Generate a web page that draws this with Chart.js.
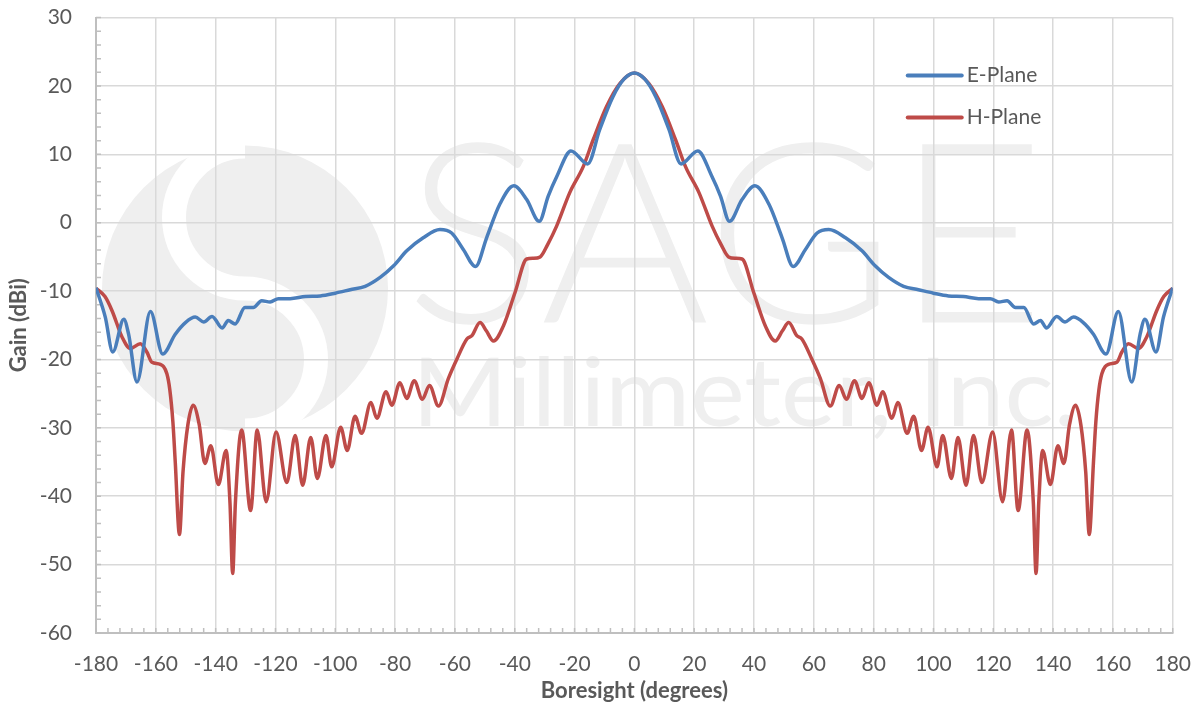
<!DOCTYPE html>
<html>
<head>
<meta charset="utf-8">
<script src="https://cdn.jsdelivr.net/npm/chart.js@4.4.1/dist/chart.umd.min.js"></script>
<style>
  html, body { margin: 0; padding: 0; background: #fff; }
  #wrap { width: 1199px; height: 706px; overflow: hidden; position: relative; }
  /* el lienzo es algo mayor para que el area del grafico quede donde en la figura */
  #gainChart { position: absolute; left: 0; top: -19px; }
</style>
</head>
<body>
<div id="wrap"><canvas id="gainChart" width="1210" height="725"></canvas></div>
<script>
// Datos (angulo en grados, ganancia en dBi)
const ePlaneAngles = [
  -180, -176.9, -174.4, -170.7, -169.1, -166.3, -161.8, -157.7, -153.5, -150.1,
  -146.8, -144, -141.2, -137.8, -135.8, -133.5, -130.2, -127.4, -124.6, -121.8,
  -119, -115.1, -110, -105, -100, -95, -90, -85, -80.5, -76.1,
  -70.6, -65, -61.1, -57.2, -53.1, -49.4, -45, -40.3, -36, -31.8,
  -28.8, -25.9, -21.2, -15.6, -11.6, -7.2, -3.5, 0,
  3.5, 7.2, 11.6, 15.6, 21.2, 25.9, 28.8, 31.8, 36, 40.3,
  45, 49.4, 53.1, 57.2, 61.1, 65, 70.6, 76.1, 80.5, 85,
  90, 95, 100, 105, 110, 115.1, 119, 121.8, 124.6, 127.4,
  130.2, 133.5, 135.8, 137.8, 141.2, 144, 146.8, 150.1, 153.5, 157.7,
  161.8, 166.3, 169.1, 170.7, 174.4, 176.9, 180
];
const ePlaneGain = [
  -9.5, -13.8, -18.9, -14.1, -16.3, -23.3, -13, -19.2, -16.3, -14.6,
  -13.8, -14.5, -13.7, -15.4, -14.3, -14.8, -12.4, -12.4, -11.4, -11.6,
  -11.1, -11.1, -10.8, -10.7, -10.3, -9.8, -9.3, -8, -6.3, -4.1,
  -2.2, -1, -1.5, -3.9, -6.4, -2.2, 2.7, 5.4, 3.4, 0.2,
  3.9, 6.8, 10.5, 8.6, 13.6, 18.4, 21, 21.9,
  21, 18.4, 13.6, 8.6, 10.5, 6.8, 3.9, 0.2, 3.4, 5.4,
  2.7, -2.2, -6.4, -3.9, -1.5, -1, -2.2, -4.1, -6.3, -8,
  -9.3, -9.8, -10.3, -10.7, -10.8, -11.1, -11.1, -11.6, -11.4, -12.4,
  -12.4, -14.8, -14.3, -15.4, -13.7, -14.5, -13.8, -14.6, -16.3, -19.2,
  -13, -23.3, -16.3, -14.1, -18.9, -13.8, -9.5
];

const hPlaneAngles = [
  -180, -177, -174.6, -171.3, -168.5, -165.2, -163, -161.3, -158.5, -156.3,
  -155.3, -154.3, -153.5, -152.1, -150.9, -149.3, -147.5, -145.5, -143.6, -141.6,
  -139.1, -136.5, -135.2, -134.3, -133.4, -131.3, -128.3, -126.1, -123.1, -119.8,
  -116.2, -113.4, -110.9, -108.2, -106, -103.1, -101.2, -98.2, -96, -93.4,
  -91.2, -88.1, -86.1, -83, -81.1, -78.4, -76.1, -73.6, -70.9, -68.5,
  -65.5, -62.2, -59.4, -56, -54.3, -51.6, -49.5, -47.1, -43.8, -39.9,
  -36, -33.8, -31.5, -29, -26, -21.6, -17.1, -13.8, -9.3, -4.8, 0,
  4.8, 9.3, 13.8, 17.1, 21.6, 26, 29, 31.5, 33.8, 36,
  39.9, 43.8, 47.1, 49.5, 51.6, 54.3, 56, 59.4, 62.2, 65.5,
  68.5, 70.9, 73.6, 76.1, 78.4, 81.1, 83, 86.1, 88.1, 91.2,
  93.4, 96, 98.2, 101.2, 103.1, 106, 108.2, 110.9, 113.4, 116.2,
  119.8, 123.1, 126.1, 128.3, 131.3, 133.4, 134.3, 135.2, 136.5, 139.1,
  141.6, 143.6, 145.5, 147.5, 149.3, 150.9, 152.1, 153.5, 154.3, 155.3,
  156.3, 158.5, 161.3, 163, 165.2, 168.5, 171.3, 174.6, 177, 180
];
const hPlaneGain = [
  -9.6, -10.8, -12.9, -16.7, -18.4, -17.7, -18.9, -20.4, -20.7, -22.1,
  -24.5, -29.1, -35, -45.6, -36.4, -29.6, -26.7, -29.5, -35.2, -32.6,
  -38.3, -33.3, -41, -51.3, -41, -30.3, -42.1, -30.3, -40.8, -30.6,
  -38, -31.1, -38.4, -31.4, -37.4, -31.1, -35.7, -29.9, -33.3, -28.3,
  -30.8, -26.3, -28.6, -24.7, -26.7, -23.4, -25.7, -23.1, -25.8, -23.8,
  -26.8, -22.8, -20, -17, -16.5, -14.6, -15.8, -17.3, -15.1, -10.2,
  -5.3, -5.2, -5, -3.2, -0.5, 4.4, 8.2, 12.1, 17, 20.4, 21.9,
  20.4, 17, 12.1, 8.2, 4.4, -0.5, -3.2, -5, -5.2, -5.3,
  -10.2, -15.1, -17.3, -15.8, -14.6, -16.5, -17, -20, -22.8, -26.8,
  -23.8, -25.8, -23.1, -25.7, -23.4, -26.7, -24.7, -28.6, -26.3, -30.8,
  -28.3, -33.3, -29.9, -35.7, -31.1, -37.4, -31.4, -38.4, -31.1, -38,
  -30.6, -40.8, -30.3, -42.1, -30.3, -41, -51.3, -41, -33.3, -38.3,
  -32.6, -35.2, -29.5, -26.7, -29.6, -36.4, -45.6, -35, -29.1, -24.5,
  -22.1, -20.7, -20.4, -18.9, -17.7, -18.4, -16.7, -12.9, -10.8, -9.6
];

const X_MIN = -180, X_MAX = 180, X_STEP = 20, X_MINOR = 4;
const Y_MIN = -60, Y_MAX = 30, Y_STEP = 10, Y_MINOR = 2;

const AXIS_GREY = '#bfbfbf';
const GRID_GREY = '#d9d9d9';
const TEXT_GREY = '#595959';
const MARK_GREY = '#efefef';

Chart.defaults.font.family = 'Lato';

function toPoints(xs, ys) {
  return xs.map((a, i) => ({ x: a, y: ys[i] }));
}

// Marca de agua SAGE de fondo (relativa al area del grafico)
const marcaAgua = {
  id: 'marcaAgua',
  beforeDraw(chart) {
    const ctx = chart.ctx;
    const top = chart.chartArea.top;
    ctx.save();
    // logo circular
    ctx.fillStyle = MARK_GREY;
    ctx.beginPath();
    ctx.arc(245, top + 271, 143, 0, Math.PI * 2);
    ctx.fill();
    ctx.strokeStyle = '#ffffff';
    ctx.lineWidth = 24;
    ctx.beginPath();
    ctx.arc(245, top + 200, 71, -Math.PI / 2, Math.PI / 2, true);
    ctx.arc(245, top + 342, 71, -Math.PI / 2, Math.PI / 2, false);
    ctx.stroke();

    ctx.fillStyle = MARK_GREY;
    ctx.textBaseline = 'alphabetic';
    ctx.font = '300 252px Lato';
    let w = ctx.measureText('SAGE').width;
    ctx.save();
    ctx.translate(405, top + 305);
    ctx.scale(640 / w, 1);
    ctx.fillText('SAGE', 0, 0);
    ctx.restore();

    ctx.font = '400 95px Lato';
    w = ctx.measureText('Millimeter, Inc.').width;
    ctx.save();
    ctx.translate(412, top + 408);
    ctx.scale(666 / w, 1);
    ctx.fillText('Millimeter, Inc.', 0, 0);
    ctx.restore();
    ctx.restore();
  }
};

// Marcas menores sobre los ejes
const marcasMenores = {
  id: 'marcasMenores',
  beforeDatasetsDraw(chart) {
    const { ctx, chartArea, scales } = chart;
    ctx.save();
    ctx.strokeStyle = AXIS_GREY;
    ctx.lineWidth = 1.5;
    ctx.beginPath();
    for (let v = X_MIN; v <= X_MAX; v += X_MINOR) {
      const px = scales.x.getPixelForValue(v);
      ctx.moveTo(px, chartArea.bottom);
      ctx.lineTo(px, chartArea.bottom - 5);
    }
    for (let v = Y_MIN; v <= Y_MAX; v += Y_MINOR) {
      const py = scales.y.getPixelForValue(v);
      ctx.moveTo(chartArea.left, py);
      ctx.lineTo(chartArea.left + 5, py);
    }
    ctx.stroke();
    ctx.restore();
  }
};

// Leyenda dentro del area del grafico
const leyenda = {
  id: 'leyenda',
  afterDraw(chart) {
    const { ctx, chartArea } = chart;
    const x0 = chartArea.right - 265;
    const y0 = chartArea.top + 58;
    ctx.save();
    ctx.font = '21px Lato';
    ctx.textBaseline = 'middle';
    chart.data.datasets.forEach((ds, i) => {
      const y = y0 + i * 42;
      ctx.strokeStyle = ds.borderColor;
      ctx.lineWidth = 4;
      ctx.lineCap = 'round';
      ctx.beginPath();
      ctx.moveTo(x0, y);
      ctx.lineTo(x0 + 54, y);
      ctx.stroke();
      ctx.fillStyle = TEXT_GREY;
      ctx.fillText(ds.label, x0 + 59, y);
    });
    ctx.restore();
  }
};

new Chart(document.getElementById('gainChart'), {
  type: 'line',
  data: {
    datasets: [{
      label: 'E-Plane',
      data: toPoints(ePlaneAngles, ePlaneGain),
      borderColor: '#4A7EBB',
      borderWidth: 3.5,
      pointRadius: 0,
      cubicInterpolationMode: 'monotone',
      fill: false
    }, {
      label: 'H-Plane',
      data: toPoints(hPlaneAngles, hPlaneGain),
      borderColor: '#BE4B48',
      borderWidth: 3.5,
      pointRadius: 0,
      cubicInterpolationMode: 'monotone',
      fill: false
    }]
  },
  options: {
    responsive: false,
    animation: false,
    layout: { padding: { left: 0, top: 17, right: 26, bottom: 0 } },
    plugins: {
      legend: { display: false },
      tooltip: { enabled: false }
    },
    scales: {
      x: {
        type: 'linear',
        min: X_MIN,
        max: X_MAX,
        afterFit(scale) { scale.height = 73; },
        ticks: { stepSize: X_STEP, color: TEXT_GREY, font: { size: 21 }, padding: 19, maxRotation: 0, autoSkip: false },
        grid: { color: GRID_GREY, lineWidth: 1.5, drawTicks: false },
        border: { color: AXIS_GREY, width: 2 },
        title: { display: true, text: 'Boresight (degrees)', color: TEXT_GREY, font: { size: 22, weight: 'bold' }, padding: { top: 0, bottom: 2 } }
      },
      y: {
        min: Y_MIN,
        max: Y_MAX,
        afterFit(scale) { scale.width = 96; },
        ticks: { stepSize: Y_STEP, color: TEXT_GREY, font: { size: 21 }, padding: 24 },
        grid: { color: GRID_GREY, lineWidth: 1.5, drawTicks: false },
        border: { color: AXIS_GREY, width: 2 },
        title: { display: true, text: 'Gain (dBi)', color: TEXT_GREY, font: { size: 22, weight: 'bold' }, padding: { top: 6, bottom: 0 } }
      }
    }
  },
  plugins: [marcaAgua, marcasMenores, leyenda]
});
</script>
</body>
</html>
